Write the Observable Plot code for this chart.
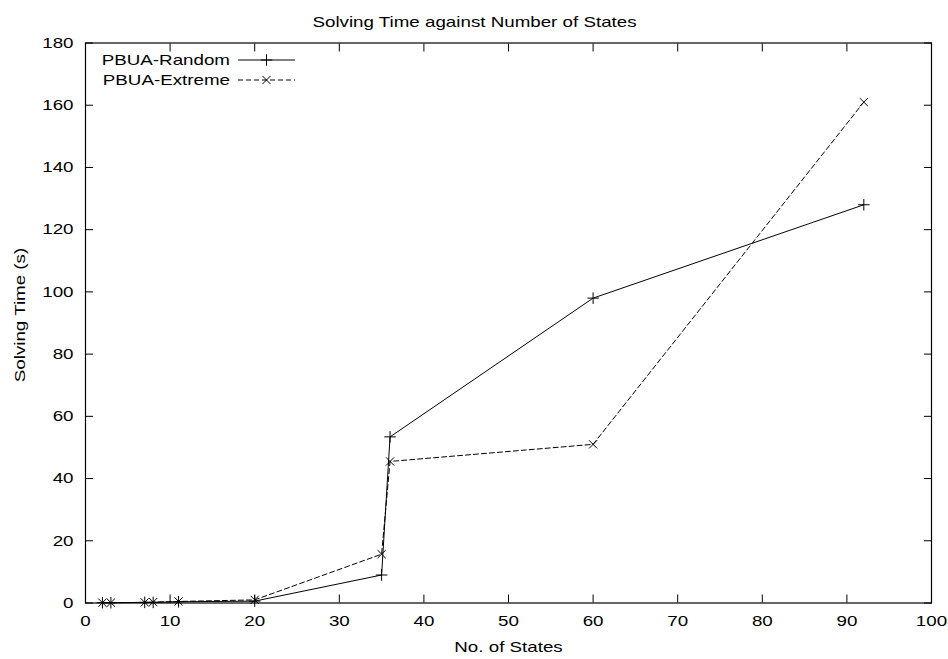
<!DOCTYPE html>
<html>
<head>
<meta charset="utf-8">
<script src="https://cdn.jsdelivr.net/npm/d3@7"></script>
<script src="https://cdn.jsdelivr.net/npm/@observablehq/plot@0.6"></script>
<style>
  html, body { margin: 0; padding: 0; background: #fff; }
  #chart svg { display: block; font-family: "Liberation Sans", Arial, sans-serif; }
</style>
</head>
<body>
<div id="chart"></div>
<script>
// Data
const states = [2, 3, 7, 8, 11, 20, 35, 36, 60, 92];
const randomTimes = [0.1, 0.1, 0.2, 0.2, 0.4, 0.6, 9, 53.4, 98, 128];
const extremeTimes = [0.1, 0.1, 0.2, 0.3, 0.5, 1, 15.7, 45.5, 51, 161];
const seriesNames = ["PBUA-Random", "PBUA-Extreme"];
const xTicks = [0, 10, 20, 30, 40, 50, 60, 70, 80, 90, 100];
const yTicks = [0, 20, 40, 60, 80, 100, 120, 140, 160, 180];
const titleText = "Solving Time against Number of States";
const xLabel = "No. of States";
const yLabel = "Solving Time (s)";

const randomData = states.map((s, i) => ({x: s, y: randomTimes[i]}));
const extremeData = states.map((s, i) => ({x: s, y: extremeTimes[i]}));

const FS = 15;
const STRETCH = 1.25;
const dash = "5,3";
const R = 3.8;

const chart = Plot.plot({
  width: 948,
  height: 659,
  marginLeft: 85,
  marginRight: 17,
  marginTop: 42.5,
  marginBottom: 56.5,
  style: {fontFamily: "Liberation Sans, Arial, sans-serif", fontSize: FS + "px", color: "#000", background: "#fff"},
  x: {domain: [0, 100]},
  y: {domain: [0, 180]},
  marks: [
    // tick labels
    Plot.axisX({ticks: xTicks, tickSize: 0, tickPadding: 12, label: null, fontSize: FS}),
    Plot.axisY({ticks: yTicks, tickSize: 0, tickPadding: 12, label: null, fontSize: FS}),
    // inward mirrored ticks
    Plot.axisX({ticks: xTicks, anchor: "bottom", tickSize: 8, dy: -8, tickFormat: () => "", label: null}),
    Plot.axisX({ticks: xTicks, anchor: "top", tickSize: 8, dy: 8, tickFormat: () => "", label: null}),
    Plot.axisY({ticks: yTicks, anchor: "left", tickSize: 8, dx: 8, tickFormat: () => "", label: null}),
    Plot.axisY({ticks: yTicks, anchor: "right", tickSize: 8, dx: -8, tickFormat: () => "", label: null}),
    Plot.frame({stroke: "#000", strokeWidth: 1.2}),
    // series
    Plot.line(randomData, {x: "x", y: "y", stroke: "#000", strokeWidth: 1}),
    Plot.dot(randomData, {x: "x", y: "y", symbol: "plus", r: R, stroke: "#000", strokeWidth: 1}),
    Plot.line(extremeData, {x: "x", y: "y", stroke: "#000", strokeWidth: 1, strokeDasharray: dash}),
    Plot.dot(extremeData, {x: "x", y: "y", symbol: "times", r: R, stroke: "#000", strokeWidth: 1}),
    // texts
    Plot.text([titleText], {frameAnchor: "top", dx: -34, dy: -27, textAnchor: "middle", fontSize: FS, fill: "#000"}),
    Plot.text([xLabel], {frameAnchor: "bottom", dy: 49, textAnchor: "middle", fontSize: FS, fill: "#000"}),
    Plot.text([yLabel], {frameAnchor: "left", dx: -65, dy: -8, rotate: -90, textAnchor: "middle", fontSize: FS, fill: "#000"})
  ]
});

// Legend (inside plot, top-left)
const svg = d3.select(chart);
const lg = svg.append("g").attr("font-family", "Liberation Sans, Arial, sans-serif").attr("font-size", FS);
const styles = [
  {dash: null, sym: d3.symbolPlus},
  {dash: dash, sym: d3.symbolTimes}
];
seriesNames.forEach((name, i) => {
  const yy = 60 + i * 20;
  lg.append("text").attr("x", 230).attr("y", yy).attr("dy", "0.35em")
    .attr("text-anchor", "end").attr("fill", "#000").text(name);
  lg.append("line").attr("x1", 238).attr("x2", 295).attr("y1", yy).attr("y2", yy)
    .attr("stroke", "#000").attr("stroke-dasharray", styles[i].dash);
  lg.append("path").attr("d", d3.symbol(styles[i].sym, Math.PI * R * R)())
    .attr("transform", `translate(266.5,${yy})`).attr("stroke", "#000").attr("fill", "none");
});

document.getElementById("chart").appendChild(chart);

// The reference text is horizontally stretched: widen glyphs along their baseline
svg.selectAll("text").each(function() {
  const len = this.getComputedTextLength();
  if (len > 0) {
    this.setAttribute("textLength", (len * STRETCH).toFixed(2));
    this.setAttribute("lengthAdjust", "spacingAndGlyphs");
  }
});
</script>
</body>
</html>
